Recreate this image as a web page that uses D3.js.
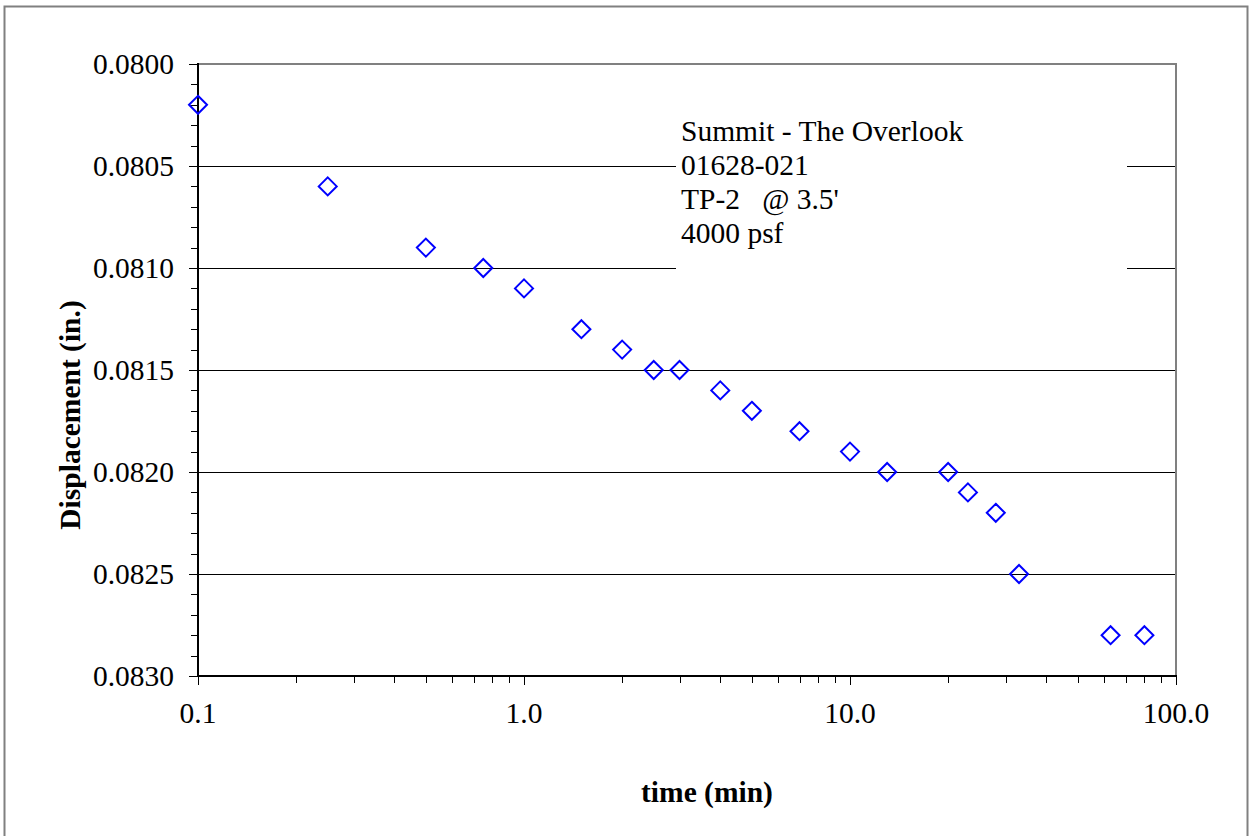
<!DOCTYPE html>
<html>
<head>
<meta charset="utf-8">
<script src="https://cdn.jsdelivr.net/npm/d3@7"></script>
<style>
  body { margin: 0; background: #fff; }
  svg { display: block; font-family: "Liberation Serif", "Times New Roman", serif; }
</style>
</head>
<body>
<svg id="chart" width="1259" height="836"></svg>
<script>
// time (min) and displacement (in.)
var times = [0.1, 0.25, 0.5, 0.75, 1.0, 1.5, 2, 2.5, 3, 4, 5, 7, 10, 13, 20, 23, 28, 33, 63, 80];
var disp = [0.0802, 0.0806, 0.0809, 0.0810, 0.0811, 0.0813, 0.0814, 0.0815, 0.0815, 0.0816,
            0.0817, 0.0818, 0.0819, 0.0820, 0.0820, 0.0821, 0.0822, 0.0825, 0.0828, 0.0828];
var xTicks = [0.1, 1, 10, 100];
var yTicks = [0.0800, 0.0805, 0.0810, 0.0815, 0.0820, 0.0825, 0.0830];
var noteLines = ["Summit - The Overlook", "01628-021", "TP-2   @ 3.5'", "4000 psf"];

var pLeft = 198, pRight = 1176, pTop = 64, pBottom = 676;
var fs = 29.5;

var svg = d3.select('#chart');

// outer border
svg.append('rect')
    .attr('x', 4.5).attr('y', 6.5).attr('width', 1243).attr('height', 840)
    .attr('fill', 'none').attr('stroke', '#808080').attr('stroke-width', 2);

var xs = d3.scaleLog().domain([0.1, 100]).range([pLeft, pRight]);
var ys = d3.scaleLinear().domain([0.0800, 0.0830]).range([pTop, pBottom]);

// grid lines
svg.append('g').selectAll('line')
    .data(yTicks.slice(1, -1))
    .enter().append('line')
    .attr('x1', pLeft).attr('x2', pRight)
    .attr('y1', function(d) { return Math.round(ys(d)) + 0.5; })
    .attr('y2', function(d) { return Math.round(ys(d)) + 0.5; })
    .attr('stroke', '#000').attr('stroke-width', 1);

// plot border (top/right grey)
svg.append('path')
    .attr('d', 'M' + pLeft + ',' + pTop + 'H' + pRight + 'V' + pBottom)
    .attr('fill', 'none').attr('stroke', '#808080').attr('stroke-width', 2);

// y axis with minor ticks
var yMinor = d3.range(0, 31).map(function(i) { return 0.0800 + i * 0.0001; });
svg.append('g').selectAll('line')
    .data(yMinor)
    .enter().append('line')
    .attr('x1', function(d, i) { return i % 5 === 0 ? pLeft - 9 : pLeft - 7; })
    .attr('x2', pLeft)
    .attr('y1', function(d) { return Math.round(ys(d)) + 0.5; })
    .attr('y2', function(d) { return Math.round(ys(d)) + 0.5; })
    .attr('stroke', '#000').attr('stroke-width', 1);
svg.append('line')
    .attr('x1', pLeft).attr('x2', pLeft).attr('y1', pTop - 1).attr('y2', pBottom + 1)
    .attr('stroke', '#000').attr('stroke-width', 2);

svg.append('g').selectAll('text')
    .data(yTicks)
    .enter().append('text')
    .attr('x', 174)
    .attr('y', function(d) { return ys(d) + 10; })
    .attr('text-anchor', 'end')
    .attr('font-size', fs)
    .text(function(d) { return d.toFixed(4); });

// x axis with minor ticks
var xMinor = [];
[0.1, 1, 10].forEach(function(dec) {
    for (var k = 1; k <= 9; k++) xMinor.push(+(dec * k).toPrecision(6));
});
xMinor.push(100);
svg.append('g').selectAll('line')
    .data(xMinor)
    .enter().append('line')
    .attr('x1', function(d) { return Math.round(xs(d)) + 0.5; })
    .attr('x2', function(d) { return Math.round(xs(d)) + 0.5; })
    .attr('y1', pBottom)
    .attr('y2', function(d) { return xTicks.indexOf(d) >= 0 ? pBottom + 9 : pBottom + 7; })
    .attr('stroke', '#000').attr('stroke-width', 1);
svg.append('line')
    .attr('x1', pLeft).attr('x2', pRight + 1).attr('y1', pBottom).attr('y2', pBottom)
    .attr('stroke', '#000').attr('stroke-width', 2);

svg.append('g').selectAll('text')
    .data(xTicks)
    .enter().append('text')
    .attr('x', function(d) { return xs(d); })
    .attr('y', 723)
    .attr('text-anchor', 'middle')
    .attr('font-size', fs)
    .text(function(d) { return d === 0.1 ? '0.1' : d.toFixed(1); });

// axis titles
svg.append('text')
    .attr('x', 707).attr('y', 802)
    .attr('text-anchor', 'middle')
    .attr('font-size', fs).attr('font-weight', 'bold')
    .text('time (min)');
svg.append('text')
    .attr('transform', 'translate(80,415) rotate(-90)')
    .attr('text-anchor', 'middle')
    .attr('font-size', fs).attr('font-weight', 'bold')
    .text('Displacement (in.)');

// note box
svg.append('rect')
    .attr('x', 676).attr('y', 100).attr('width', 451).attr('height', 190)
    .attr('fill', '#fff');
svg.append('g').selectAll('text')
    .data(noteLines)
    .enter().append('text')
    .attr('x', 681)
    .attr('y', function(d, i) { return 141 + i * 34; })
    .attr('font-size', fs)
    .attr('xml:space', 'preserve')
    .style('white-space', 'pre')
    .text(function(d) { return d; });

// markers
var pts = times.map(function(t, i) { return { t: t, v: disp[i] }; });
svg.append('g').selectAll('path')
    .data(pts)
    .enter().append('path')
    .attr('transform', function(d) { return 'translate(' + xs(d.t) + ',' + ys(d.v) + ')'; })
    .attr('d', 'M0,-9L9,0L0,9L-9,0Z')
    .attr('fill', 'none')
    .attr('stroke', '#0000ff')
    .attr('stroke-width', 2);
</script>
</body>
</html>
